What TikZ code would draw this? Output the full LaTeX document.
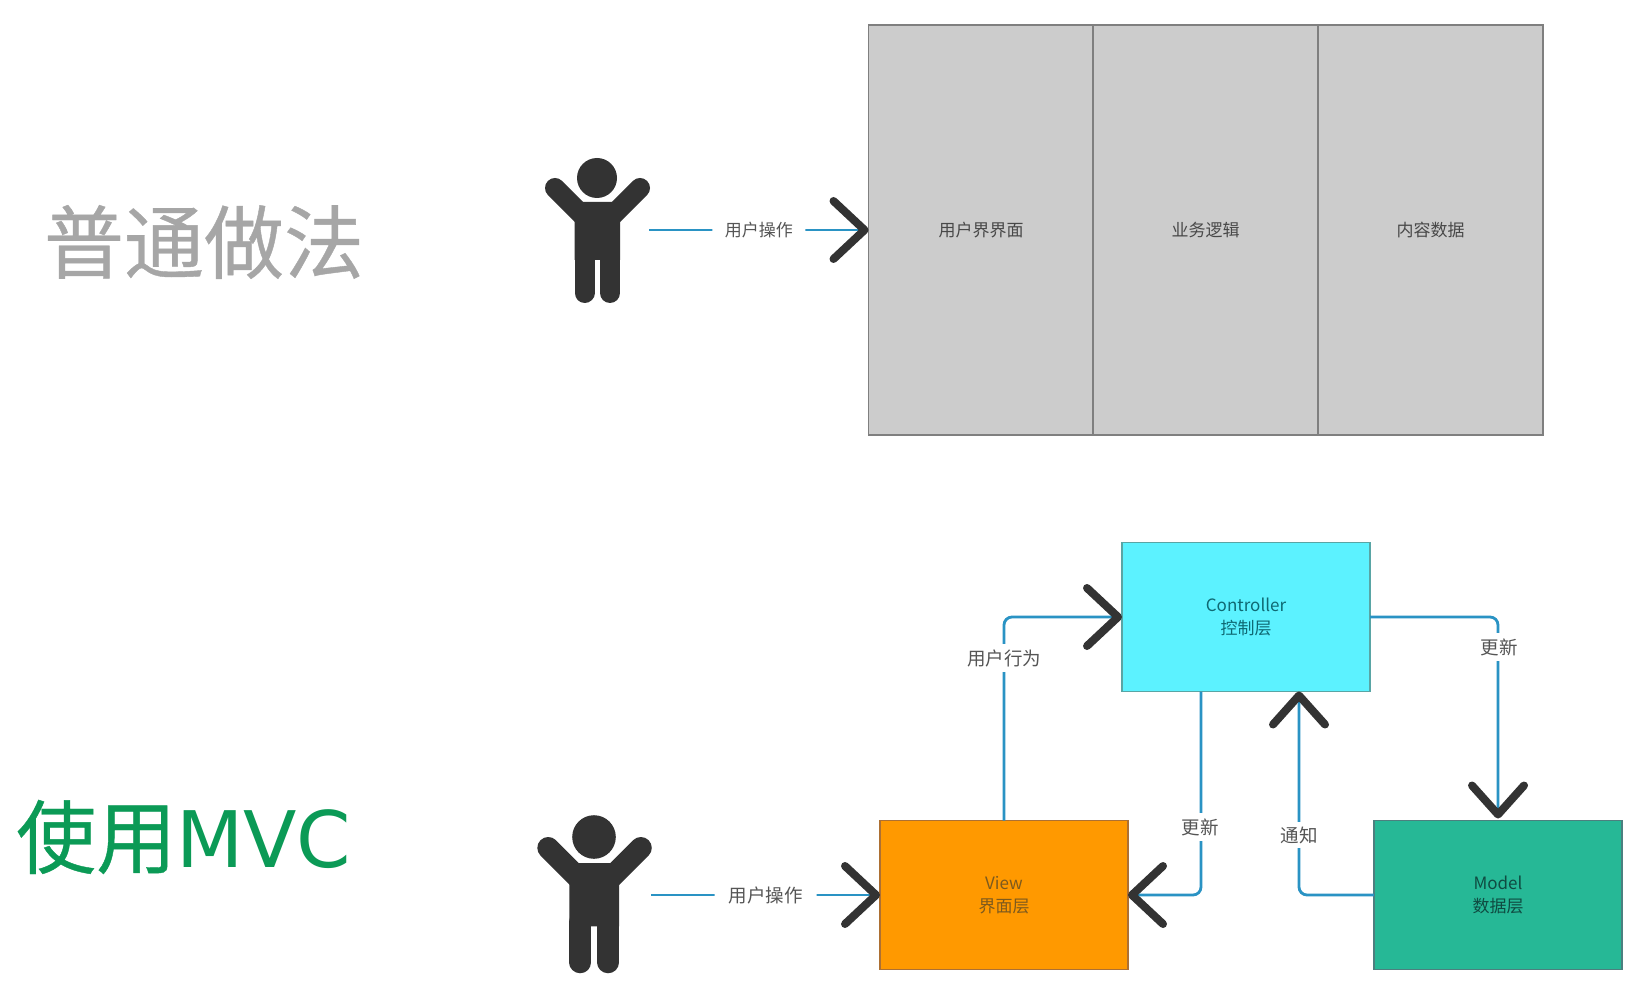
\documentclass[tikz,border=0pt]{standalone}
\usepackage{fontspec}
\setmainfont{Noto Sans CJK SC}
\newfontfamily\titlecjk[FakeBold=0.5]{Noto Sans CJK SC}
\newfontfamily\titlelat{DejaVu Sans}
\usetikzlibrary{arrows.meta,calc}
\definecolor{flow}{HTML}{2A93C4}
\definecolor{chev}{HTML}{333333}
\definecolor{edgegray}{HTML}{7F7F7F}
\definecolor{ltxt}{HTML}{555555}
\tikzset{
  basebox/.style={draw,line width=1.4pt,inner sep=0pt,outer sep=0pt,align=center,
    font=\fontsize{17}{23}\selectfont},
  graybox/.style={basebox,fill=black!20,draw=edgegray,text=ltxt!85!black,minimum width=225pt,minimum height=410pt},
  mvcbox/.style={basebox,minimum width=248pt,minimum height=149pt},
  conn/.style={draw=flow,line width=2.8pt,rounded corners=8pt,
    -{Straight Barb[round,color=chev,length=31pt,width=58pt,line width=8pt]}},
  connv/.style={draw=flow,line width=2.8pt,rounded corners=8pt,
    -{Straight Barb[round,color=chev,length=29pt,width=52pt,line width=8pt]}},
  lab/.style={fill=white,text=ltxt,inner xsep=12.5pt,inner ysep=5pt,font=\fontsize{17}{20}\selectfont},
  labb/.style={lab,inner xsep=14pt,font=\fontsize{18.5}{20}\selectfont},
  title/.style={inner sep=0pt,font=\fontsize{80}{84}\selectfont},
}
\newcommand{\manfig}[3]{%
  \begin{scope}[shift={(#1,#2)},x=#3pt,y=-#3pt]
    \fill[chev] (0,0) circle (20);
    \fill[chev] (-17,24) -- (17,24) -- (23,39) -- (23,82) -- (-22.5,82) -- (-22.5,39) -- cycle;
    \draw[chev,line width=#3*20pt,line cap=round] (-42,10) -- (-14,38);
    \draw[chev,line width=#3*20pt,line cap=round] (43,10) -- (15,38);
    \draw[chev,line width=#3*20pt,line cap=round] (-12.5,78) -- (-12.5,115);
    \draw[chev,line width=#3*20pt,line cap=round] (13,78) -- (13,115);
  \end{scope}}
\begin{document}
\begin{tikzpicture}[x=1pt,y=-1pt]
\useasboundingbox (0,0) rectangle (1635,981);
\fill[white] (0,0) rectangle (1635,981);
% titles
\node[title,text=black!35] (t1) at (204,242) {\titlecjk 普通做法};
\node[title,text={rgb,255:red,11;green,154;blue,86},anchor=west] (t2) at (16,837) {\titlecjk 使用\titlelat\fontsize{78}{84}\selectfont MVC};
% top row
\node[graybox] (ui) at (981,230) {用户界界面};
\node[graybox] (logic) at (1205.5,230) {业务逻辑};
\node[graybox] (data) at (1430.5,230) {内容数据};
\manfig{597}{178}{1}
\coordinate (u1) at (649,230);
\draw[conn] (u1) -- node[lab] (l1) {用户操作} (ui.west);
% bottom
\node[mvcbox,fill={rgb,255:red,92;green,242;blue,255},draw=edgegray!70!cyan,text={rgb,255:red,15;green,105;blue,115}] (ctrl) at (1246,617) {Controller\\控制层};
\node[mvcbox,fill={rgb,255:red,255;green,153;blue,0},draw=orange!60!black!80,text={rgb,255:red,125;green,90;blue,30}] (view) at (1004,895) {View\\界面层};
\node[mvcbox,fill={rgb,255:red,38;green,184;blue,150},draw=edgegray!60!teal,text={rgb,255:red,15;green,75;blue,65}] (model) at (1498,895) {Model\\数据层};
\manfig{594}{837}{1.09}
\coordinate (u2) at (651,895);
\draw[conn] (u2) -- node[labb] (l2) {用户操作} (view.west);
\draw[conn] (view.north) |- (ctrl.west);
\draw[connv,shorten >=2pt] (ctrl.east) -| (model.north);
\draw[conn] ([xshift=79pt]ctrl.south west) |- (view.east);
\draw[connv] (model.west) -| ([xshift=177pt]ctrl.south west);
\node[labb] (l3) at (1004,658) {用户行为};
\node[labb] (l4) at (1499,647) {更新};
\node[labb] (l5) at (1200,827) {更新};
\node[labb] (l6) at (1299,835) {通知};
\end{tikzpicture}
\end{document}
